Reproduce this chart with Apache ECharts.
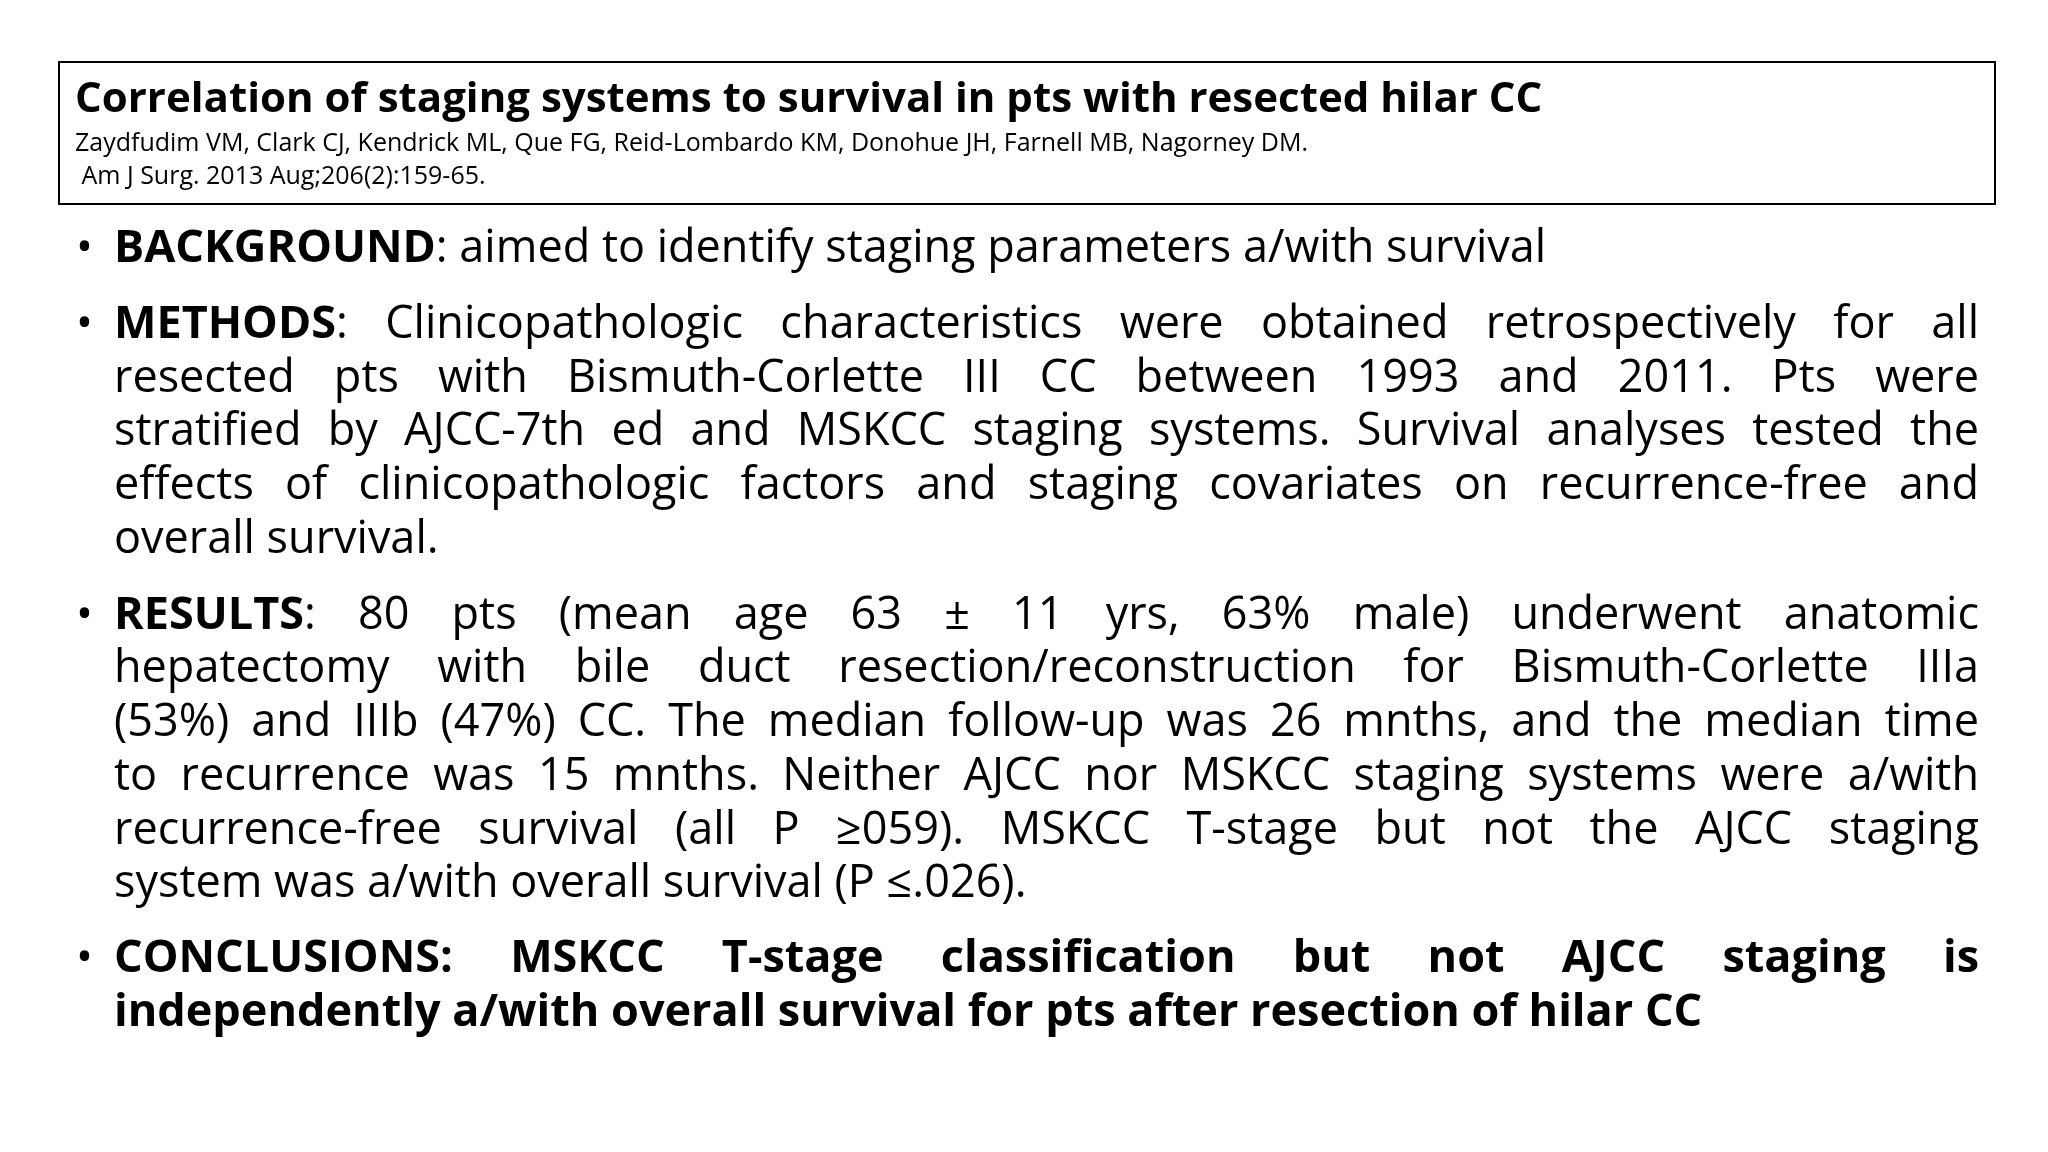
<!DOCTYPE html>
<html><head><meta charset="utf-8">
<script src="https://cdn.jsdelivr.net/npm/echarts@6/dist/echarts.min.js"></script>
<style>html,body{margin:0;background:#fff}#main{width:2048px;height:1152px}</style>
</head><body><div id="main"></div>
<script>
var titleText = 'Correlation of staging systems to survival in pts with resected hilar CC';
var citeLines = ['Zaydfudim VM, Clark CJ, Kendrick ML, Que FG, Reid-Lombardo KM, Donohue JH, Farnell MB, Nagorney DM.',
  ' Am J Surg. 2013 Aug;206(2):159-65.'];
// each line: text with *bold* runs, justified flag, bullet flag
var bodyLines = [
  ['*BACKGROUND*: aimed to identify staging parameters a/with survival', 0, 1],
  ['*METHODS*: Clinicopathologic characteristics were obtained retrospectively for all', 1, 1],
  ['resected pts with Bismuth-Corlette III CC between 1993 and 2011. Pts were', 1, 0],
  ['stratified by AJCC-7th ed and MSKCC staging systems. Survival analyses tested the', 1, 0],
  ['effects of clinicopathologic factors and staging covariates on recurrence-free and', 1, 0],
  ['overall survival.', 0, 0],
  ['*RESULTS*: 80 pts (mean age 63 ± 11 yrs, 63% male) underwent anatomic', 1, 1],
  ['hepatectomy with bile duct resection/reconstruction for Bismuth-Corlette IIIa', 1, 0],
  ['(53%) and IIIb (47%) CC. The median follow-up was 26 mnths, and the median time', 1, 0],
  ['to recurrence was 15 mnths. Neither AJCC nor MSKCC staging systems were a/with', 1, 0],
  ['recurrence-free survival (all P ≥059). MSKCC T-stage but not the AJCC staging', 1, 0],
  ['system was a/with overall survival (P ≤.026).', 0, 0],
  ['*CONCLUSIONS: MSKCC T-stage classification but not AJCC staging is*', 1, 1],
  ['*independently a/with overall survival for pts after resection of hilar CC*', 0, 0]
];
var lineY = [249, 325, 379, 432, 486, 540, 616, 669, 723, 777, 831, 884, 959, 1013];

var FF = '"Open Sans", Lato, sans-serif';
var ctx = document.createElement('canvas').getContext('2d');
function w(t, b, fs) { ctx.font = (b ? 'bold ' : '') + fs + 'px ' + FF; return ctx.measureText(t).width; }

var g = [];
g.push({type: 'rect', shape: {x: 59, y: 62, width: 1936, height: 142}, style: {fill: 'none', stroke: '#000', lineWidth: 2}});
g.push({type: 'text', x: 75, y: 100, style: {text: titleText, font: 'bold 42px ' + FF, fill: '#000', verticalAlign: 'middle'}});
g.push({type: 'text', x: 75, y: 144, style: {text: citeLines[0], font: '25px ' + FF, fill: '#000', verticalAlign: 'middle'}});
g.push({type: 'text', x: 75, y: 177, style: {text: citeLines[1], font: '25px ' + FF, fill: '#000', verticalAlign: 'middle'}});

var X0 = 114, X1 = 1979, FS = 45;
bodyLines.forEach(function (L, i) {
  var y = lineY[i];
  if (L[2]) g.push({type: 'text', x: 76, y: y, style: {text: '•', font: FS + 'px ' + FF, fill: '#000', verticalAlign: 'middle'}});
  var bold = false, words = [[]], cur = '';
  function flush() { if (cur) { words[words.length - 1].push([cur, bold]); cur = ''; } }
  for (var c of L[0]) {
    if (c === '*') { flush(); bold = !bold; }
    else if (c === ' ') { flush(); words.push([]); }
    else cur += c;
  }
  flush();
  var fs = FS;
  function ww(wd) { return wd.reduce(function (s, p) { return s + w(p[0], p[1], fs); }, 0); }
  var total = words.reduce(function (s, wd) { return s + ww(wd); }, 0);
  var sp = w(' ', false, fs);
  var nat = total + sp * (words.length - 1);
  if (nat > X1 - X0) { fs = fs * (X1 - X0) / nat * 0.985; total = words.reduce(function (s, wd) { return s + ww(wd); }, 0); sp = w(' ', false, fs); }
  if (L[1]) sp = (X1 - X0 - total) / (words.length - 1);
  var x = X0;
  words.forEach(function (wd) {
    wd.forEach(function (p) {
      var pw = w(p[0], p[1], fs);
      g.push({type: 'text', x: x, y: y, style: {text: p[0], font: (p[1] ? 'bold ' : '') + fs + 'px ' + FF, fill: '#000', verticalAlign: 'middle'}});
      if (p[0] === 'CONCLUSIONS') g.push({type: 'line', shape: {x1: x, y1: y + 24, x2: x + pw, y2: y + 24}, style: {stroke: '#000', lineWidth: 3}});
      x += pw;
    });
    x += sp;
  });
});

var chart = echarts.init(document.getElementById('main'));
chart.setOption({animation: false, graphic: g});
</script></body></html>
